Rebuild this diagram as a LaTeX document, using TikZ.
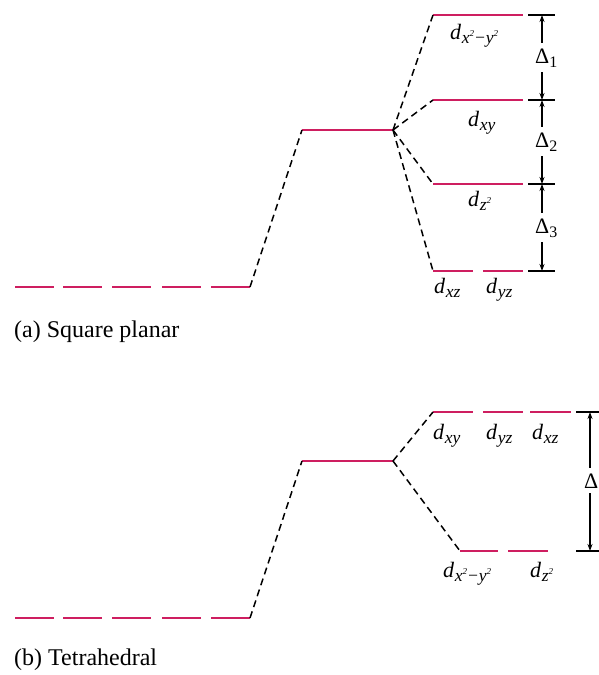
\documentclass[tikz,border=0pt]{standalone}
\usepackage{fontspec}
\setmainfont{Liberation Serif}
\usetikzlibrary{arrows.meta}
\definecolor{levelc}{RGB}{206,30,96}
\newcommand\dsub[1]{\textit{d}\kern0.5pt\raisebox{-4.5pt}{\fontsize{17.5}{17}\selectfont\itshape #1}}
\newcommand\sqd{\raisebox{7pt}{\fontsize{9}{9}\selectfont 2}}
\newcommand\dlt[1]{Δ\raisebox{-4pt}{\fontsize{16}{16}\selectfont #1}}
\begin{document}
\begin{tikzpicture}[x=1pt,y=-1pt,
 level/.style={draw=levelc, line width=2.6pt},
 corr/.style={draw=black, dash pattern=on 7pt off 4.5pt, line width=1.5pt},
 dim/.style={draw=black, line width=1.1pt, {Stealth[length=7pt,width=5pt]}-{Stealth[length=7pt,width=5pt]}},
 tickl/.style={draw=black, line width=1.1pt},
 lab/.style={font=\fontsize{22}{24}\selectfont, inner sep=0pt, anchor=base west},
 dlab/.style={font=\fontsize{22}{24}\selectfont, inner xsep=0pt, inner ysep=5pt, fill=white, anchor=base west},
 captext/.style={font=\fontsize{24}{26}\selectfont, anchor=base west, inner sep=0pt},
 ]
\useasboundingbox (0,0) rectangle (599,675);

% ---------------- (a) Square planar ----------------
\foreach \s in {15,63,112,162,211}
  \draw[level] (\s,287) -- ++(39,0);
\coordinate (aL) at (250,287);
\coordinate (aM1) at (302,130);
\coordinate (aM2) at (393,130);
\draw[level] (aM1) -- (aM2);
\draw[corr] (aL) -- (aM1);

\coordinate (a1) at (433,15);
\coordinate (a2) at (433,100);
\coordinate (a3) at (433,184);
\coordinate (a4) at (433,271);
\draw[level] (a1) -- (523,15);
\draw[level] (a2) -- (523,100);
\draw[level] (a3) -- (523,184);
\draw[level] (a4) -- (473,271);
\draw[level] (483,271) -- (523,271);
\draw[corr] (aM2) -- (a1);
\draw[corr] (aM2) -- (a2);
\draw[corr] (aM2) -- (a3);
\draw[corr] (aM2) -- (a4);

\node[lab] (lx2) at (450,39) {\dsub{x\sqd−y\sqd}};
\node[lab] (lxy) at (468,126) {\dsub{xy}};
\node[lab] (lz2) at (468,206) {\dsub{z\sqd}};
\node[lab] (lxz) at (434,293) {\dsub{xz}};
\node[lab] (lyz) at (486,293) {\dsub{yz}};

% dimension lines (a)
\foreach \y in {15,100,184,271}
  \draw[tickl] (528,\y) -- (555,\y);
\coordinate (t1) at (542,15);
\coordinate (t2) at (542,100);
\coordinate (t3) at (542,184);
\coordinate (t4) at (542,271);
\draw[dim] (t1) -- (t2);
\draw[dim] (t2) -- (t3);
\draw[dim] (t3) -- (t4);
\node[dlab] (D1) at (535,63) {\dlt{1}};
\node[dlab] (D2) at (535,147) {\dlt{2}};
\node[dlab] (D3) at (535,233) {\dlt{3}};

\node[captext] (capa) at (14,337) {(a) Square planar};

% ---------------- (b) Tetrahedral ----------------
\foreach \s in {15,63,112,162,211}
  \draw[level] (\s,618) -- ++(39,0);
\coordinate (bL) at (250,618);
\coordinate (bM1) at (302,461);
\coordinate (bM2) at (393,461);
\draw[level] (bM1) -- (bM2);
\draw[corr] (bL) -- (bM1);

\coordinate (bT) at (433,412);
\coordinate (bB) at (460,551);
\draw[level] (bT) -- (473,412);
\draw[level] (483,412) -- (523,412);
\draw[level] (530,412) -- (571,412);
\draw[level] (bB) -- (498,551);
\draw[level] (508,551) -- (548,551);
\draw[corr] (bM2) -- (bT);
\draw[corr] (bM2) -- (bB);

\node[lab] (mxy) at (433,439) {\dsub{xy}};
\node[lab] (myz) at (486,439) {\dsub{yz}};
\node[lab] (mxz) at (532,439) {\dsub{xz}};
\node[lab] (mx2) at (443,577) {\dsub{x\sqd−y\sqd}};
\node[lab] (mz2) at (530,577) {\dsub{z\sqd}};

\draw[tickl] (576,412) -- (599,412);
\draw[tickl] (576,551) -- (599,551);
\coordinate (u1) at (590,412);
\coordinate (u2) at (590,551);
\draw[dim] (u1) -- (u2);
\node[dlab] (DD) at (584,488) {Δ};

\node[captext] (capb) at (14,665) {(b) Tetrahedral};
\end{tikzpicture}
\end{document}
